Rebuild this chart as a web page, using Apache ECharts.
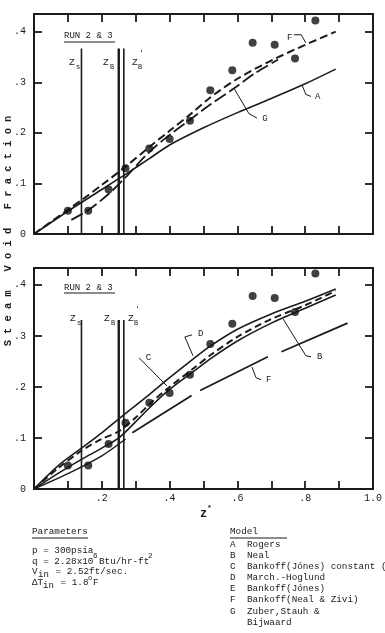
<!DOCTYPE html>
<html><head><meta charset="utf-8">
<script src="https://cdn.jsdelivr.net/npm/echarts/dist/echarts.min.js"></script>
<style>html,body{margin:0;padding:0;background:#fff}#c{width:385px;height:633px}</style>
</head><body><div id="c"></div>
<script>
// ---- data ----
const dotX = [0.10, 0.16, 0.22, 0.27, 0.34, 0.40, 0.46, 0.52, 0.585, 0.645, 0.71, 0.77, 0.83];
const dotY = [0.046, 0.046, 0.088, 0.13, 0.169, 0.188, 0.224, 0.284, 0.324, 0.378, 0.374, 0.347, 0.422];

// top panel models
const aX = [0, 0.1, 0.2, 0.27, 0.34, 0.4, 0.5, 0.6, 0.7, 0.8, 0.89];
const aY = [0, 0.045, 0.088, 0.118, 0.149, 0.176, 0.21, 0.24, 0.268, 0.297, 0.326];
const fTopX = [0, 0.1, 0.14, 0.2, 0.27, 0.34, 0.4, 0.46, 0.52, 0.6, 0.7, 0.8, 0.89];
const fTopY = [0, 0.048, 0.067, 0.097, 0.133, 0.172, 0.204, 0.236, 0.27, 0.307, 0.343, 0.374, 0.40];
const gX = [0.11, 0.16, 0.22, 0.27, 0.34, 0.4, 0.46, 0.52, 0.59, 0.65, 0.72];
const gY = [0.028, 0.047, 0.079, 0.112, 0.162, 0.196, 0.226, 0.256, 0.288, 0.317, 0.345];

// bottom panel models
const dX = [0, 0.07, 0.14, 0.2, 0.27, 0.34, 0.4, 0.47, 0.52, 0.6, 0.7, 0.8, 0.89];
const dY = [0, 0.045, 0.08, 0.11, 0.148, 0.185, 0.218, 0.255, 0.28, 0.313, 0.343, 0.368, 0.392];
const cX = [0, 0.07, 0.14, 0.2, 0.25, 0.3, 0.35, 0.4, 0.47, 0.52, 0.6, 0.7, 0.8, 0.89];
const cY = [0, 0.04, 0.075, 0.098, 0.113, 0.14, 0.172, 0.2, 0.236, 0.262, 0.298, 0.333, 0.36, 0.388];
const bX = [0, 0.07, 0.14, 0.2, 0.25, 0.3, 0.35, 0.4, 0.47, 0.52, 0.6, 0.7, 0.8, 0.89];
const bY = [0, 0.03, 0.058, 0.08, 0.1, 0.132, 0.165, 0.195, 0.23, 0.255, 0.29, 0.325, 0.354, 0.38];
const eX = [0, 0.1, 0.2, 0.27];
const eY = [0, 0.03, 0.065, 0.098];
const fBotX = [0.29, 0.465, 0.477, 0.49, 0.69, 0.71, 0.73, 0.925];
const fBotY = [0.11, 0.183, null, 0.193, 0.259, null, 0.269, 0.325];

// boiling boundaries Zs, ZB, ZB'
const zX = [0.14, 0.25, 0.265];
const zTopPanel = 0.367;
const zTopPanel2 = 0.331;

// tick labels
const xTickLabels = {2: '.2', 4: '.4', 6: '.6', 8: '.8', 10: '1.0'};
const yTickLabels = {0: '0', 1: '.1', 2: '.2', 3: '.3', 4: '.4'};

// annotation anchors (data coords) : [gridIndex, label, labelPos, leaderPts]
const notes = [
  [0, 'F', [0.746, 0.388], [[0.767, 0.394], [0.788, 0.394], [0.802, 0.378]]],
  [0, 'A', [0.829, 0.272], [[0.791, 0.294], [0.802, 0.276], [0.817, 0.272]]],
  [0, 'G', [0.673, 0.229], [[0.59, 0.288], [0.634, 0.238], [0.658, 0.229]]],
  [1, 'D', [0.484, 0.304], [[0.466, 0.302], [0.445, 0.298], [0.469, 0.261]]],
  [1, 'C', [0.330, 0.257], [[0.310, 0.257], [0.392, 0.202]]],
  [1, 'B', [0.835, 0.259], [[0.817, 0.259], [0.802, 0.261], [0.735, 0.333]]],
  [1, 'F', [0.684, 0.214], [[0.670, 0.214], [0.655, 0.218], [0.643, 0.239]]]
];

const INK = '#1b1b1b';
const FONT = '"Liberation Mono","DejaVu Sans Mono",monospace';

const zip = (xs, ys) => xs.map((x, i) => [x, ys[i] == null ? '-' : ys[i]]);

function xFmt(v) { const t = Math.round(v * 10); return (Math.abs(v * 10 - t) < 1e-6 && xTickLabels[t]) || ''; }
function yFmt(v) { const t = Math.round(v * 10); return (Math.abs(v * 10 - t) < 1e-6 && yTickLabels[t] !== undefined) ? yTickLabels[t] : ''; }

function xAx(grid, pos, labels) {
  return { type: 'value', gridIndex: grid, position: pos, min: 0, max: 1, interval: 0.1,
    axisLine: { show: true, onZero: false, lineStyle: { color: INK, width: 2 } },
    axisTick: { show: true, inside: true, length: 8, lineStyle: { color: INK, width: 1.8 } },
    axisLabel: { show: labels, margin: 4, color: INK, fontFamily: FONT, fontSize: 10, formatter: xFmt, showMinLabel: true, showMaxLabel: true },
    splitLine: { show: false } };
}
function yAx(grid, pos, max, labels) {
  return { type: 'value', gridIndex: grid, position: pos, min: 0, max: max, interval: 0.1,
    axisLine: { show: true, onZero: false, lineStyle: { color: INK, width: 2 } },
    axisTick: { show: true, inside: true, length: 8, lineStyle: { color: INK, width: 1.8 } },
    axisLabel: { show: labels, margin: 8, color: INK, fontFamily: FONT, fontSize: 10, formatter: yFmt, showMaxLabel: false },
    splitLine: { show: false } };
}

function line(xs, ys, ax, width, type, smooth) {
  return { type: 'line', xAxisIndex: ax, yAxisIndex: ax, data: zip(xs, ys), showSymbol: false,
    smooth: smooth === undefined ? 0.3 : smooth, connectNulls: false, silent: true,
    lineStyle: { color: INK, width: width, type: type }, z: 3 };
}
function vline(x, top, ax, width) {
  return { type: 'line', xAxisIndex: ax, yAxisIndex: ax, data: [[x, 0], [x, top]], showSymbol: false,
    silent: true, lineStyle: { color: INK, width: width }, z: 2 };
}
function dots(ax) {
  return { type: 'scatter', xAxisIndex: ax, yAxisIndex: ax, data: zip(dotX, dotY), symbol: 'circle',
    symbolSize: 8, itemStyle: { color: '#111' }, z: 5, silent: true };
}

const series = [
  dots(0),
  line(aX, aY, 0, 1.6, 'solid'),
  line(fTopX, fTopY, 0, 2, [8, 4]),
  line(gX, gY, 0, 1.8, [13, 4]),
  vline(zX[0], zTopPanel, 0, 1.6), vline(zX[1], zTopPanel, 0, 2.4), vline(zX[2], zTopPanel, 0, 1.6),
  dots(2),
  line(dX, dY, 2, 1.6, 'solid'),
  line(cX, cY, 2, 2, [7, 4]),
  line(bX, bY, 2, 1.6, 'solid'),
  line(eX, eY, 2, 1.5, 'solid'),
  line(fBotX, fBotY, 2, 1.8, 'solid', 0),
  vline(zX[0], zTopPanel2, 2, 1.6), vline(zX[1], zTopPanel2, 2, 2.4), vline(zX[2], zTopPanel2, 2, 1.6)
];

const chart = echarts.init(document.getElementById('c'), null, { renderer: 'canvas' });
chart.setOption({
  animation: false,
  backgroundColor: '#fff',
  grid: [{ left: 34, top: 14, width: 339, height: 220 }, { left: 34, top: 268, width: 339, height: 221 }],
  xAxis: [xAx(0, 'bottom', false), xAx(0, 'top', false), xAx(1, 'bottom', true), xAx(1, 'top', false)],
  yAxis: [yAx(0, 'left', 0.435, true), yAx(0, 'right', 0.435, false), yAx(1, 'left', 0.433, true), yAx(1, 'right', 0.433, false)],
  series: series
});

// ---- text & annotations ----
const T = (x, y, text, opt) => ({ type: 'text', x: x, y: y, silent: true, z: 10,
  style: Object.assign({ text: text, fill: INK, font: '9.3px ' + FONT, textAlign: 'left', textVerticalAlign: 'middle' }, opt || {}) });
const L = (pts, w) => ({ type: 'polyline', silent: true, z: 10, shape: { points: pts }, style: { stroke: INK, lineWidth: w || 1, fill: null } });

const g = [];
// y axis title
g.push({ type: 'text', x: 8, y: 231, rotation: Math.PI / 2, silent: true, z: 10,
  style: { text: 'S t e a m   V o i d   F r a c t i o n', fill: INK, font: 'bold 10.4px ' + FONT, textAlign: 'center', textVerticalAlign: 'middle' } });
// x axis title z*
g.push(T(200, 514, 'z', { font: 'bold 12px ' + FONT }));
g.push(T(207, 508, '*', { font: 'bold 8px ' + FONT }));

// RUN 2 & 3 and Z labels for both panels
[[36, 42, 62, 67, 53], [288, 293, 318, 323, 309]].forEach((r, k) => {
  g.push(T(64, r[0], 'RUN 2 & 3', { font: '9px ' + FONT }));
  g.push(L([[64, r[1]], [115, r[1]]], 1));
  const zs = k === 0 ? [[69, 76], [103, 110], [132, 138]] : [[70, 77], [104, 111], [128, 134]];
  g.push(T(zs[0][0], r[2], 'Z', { font: '9.5px ' + FONT }));
  g.push(T(zs[0][1], r[3], 's', { font: '7px ' + FONT }));
  g.push(T(zs[1][0], r[2], 'Z', { font: '9.5px ' + FONT }));
  g.push(T(zs[1][1], r[3], 'B', { font: '7px ' + FONT }));
  g.push(T(zs[2][0], r[2], 'Z', { font: '9.5px ' + FONT }));
  g.push(T(zs[2][1], r[3], 'B', { font: '7px ' + FONT }));
  g.push(T(zs[2][1] + 1, r[4], "'", { font: '8px ' + FONT }));
});

// curve labels with leaders, positioned from data coordinates
notes.forEach(n => {
  const gi = n[0] === 0 ? 0 : 1;
  const p = chart.convertToPixel({ gridIndex: gi }, n[2]);
  g.push(T(p[0], p[1], n[1], { font: '9px ' + FONT }));
  g.push(L(n[3].map(q => chart.convertToPixel({ gridIndex: gi }, q)), 1));
});

// Parameters block
g.push(T(32, 532, 'Parameters'));
g.push(L([[32, 538], [88, 538]], 1));
g.push(T(32, 551, 'p = 300psia'));
g.push(T(32, 562, 'q = 2.28x10'));
g.push(T(93, 556, '6', { font: '7.5px ' + FONT }));
g.push(T(99, 562, 'Btu/hr-ft'));
g.push(T(148, 556, '2', { font: '7.5px ' + FONT }));
g.push(T(32, 572, 'V'));
g.push(T(38, 575, 'in', { font: '9px ' + FONT }));
g.push(T(50, 572, ' = 2.52ft/sec.'));
g.push(T(32, 583, '\u0394T'));
g.push(T(43, 586, 'in', { font: '9px ' + FONT }));
g.push(T(55, 583, ' = 1.8'));
g.push(T(88, 578, 'o', { font: '7px ' + FONT }));
g.push(T(93, 583, 'F'));

// Model block
g.push(T(230, 532, 'Model'));
g.push(L([[230, 538], [287, 538]], 1));
const models = [['A', 'Rogers'], ['B', 'Neal'], ['C', 'Bankoff(J\u00f3nes) constant ('], ['D', 'March.-Hoglund'],
  ['E', 'Bankoff(J\u00f3nes)'], ['F', 'Bankoff(Neal & Zivi)'], ['G', 'Zuber,Stauh &'], ['', 'Bijwaard']];
models.forEach((m, i) => {
  const y = 544.5 + i * 11.1;
  g.push(T(230, y, m[0]));
  g.push(T(247, y, m[1]));
});

chart.setOption({ graphic: g });
</script></body></html>
